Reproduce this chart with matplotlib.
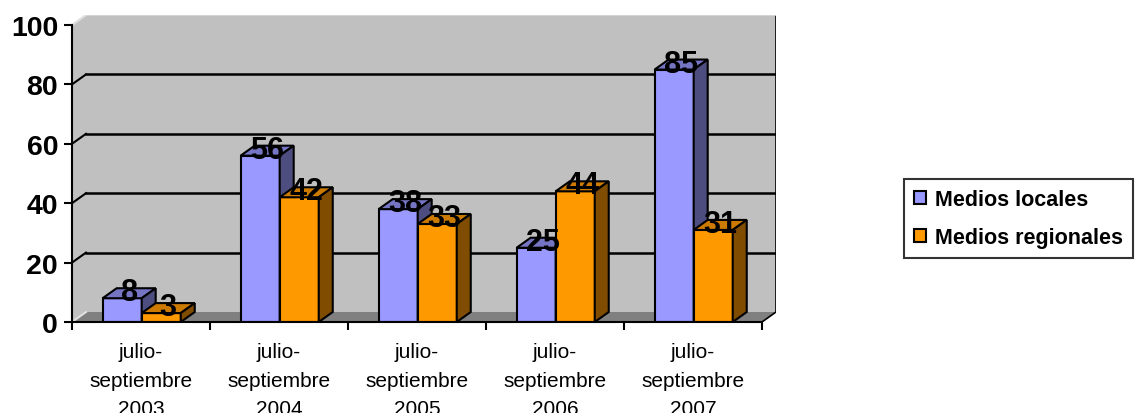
import matplotlib
matplotlib.use("Agg")
import matplotlib.pyplot as plt
from matplotlib.patches import Rectangle

categories = ["julio-\nseptiembre\n2003", "julio-\nseptiembre\n2004", "julio-\nseptiembre\n2005",
              "julio-\nseptiembre\n2006", "julio-\nseptiembre\n2007"]
medios_locales = [8, 56, 38, 25, 85]
medios_regionales = [3, 42, 33, 44, 31]
series_names = ["Medios locales", "Medios regionales"]
y_ticks = [0, 20, 40, 60, 80, 100]

plt.rcParams['font.family'] = ['Liberation Sans', 'DejaVu Sans']

W, H = 1138, 414
fig = plt.figure(figsize=(W / 100, H / 100), dpi=100)

# plot area in pixels (front axis) and 3d depth offset
px_left, px_y0, px_right, px_top = 72, 323, 776, 16
cat_px = 137.9
depth_px, depth_py = 14, 10
ddx = depth_px / cat_px
val_px = (px_y0 - 26) / 100.0
ddy = depth_py / val_px

ax = fig.add_axes([px_left / W, 1 - px_y0 / H, (px_right - px_left) / W, (px_y0 - px_top) / H])
ax.set_xlim(-0.5, 4.5 + ddx)
ax.set_ylim(0, 100 + ddy)
ax.patch.set_visible(False)

n = len(categories)
x_lo, x_hi = -0.5, n - 0.5

# walls
ax.fill([x_lo, x_lo, x_lo + ddx, x_hi + ddx, x_hi + ddx, x_lo],
        [0, 100, 100 + ddy, 100 + ddy, ddy, 0], color='#C0C0C0', zorder=0, lw=0)
ax.fill([x_lo, x_hi, x_hi + ddx, x_lo + ddx], [0, 0, ddy, ddy],
        color='#808080', zorder=1, lw=0)
ax.plot([x_hi, x_hi + ddx, x_hi + ddx], [0, ddy, 100 + ddy], color='black', lw=1.2, zorder=1)
ax.plot([x_lo + ddx, x_hi + ddx], [100 + ddy, 100 + ddy], color='#D8D8D8', lw=1.2, zorder=1)
for v in y_ticks:
    c = 'black' if 0 < v < 100 else '#E0E0E0'
    ax.plot([x_lo, x_lo + ddx], [v, v + ddy], color=c, lw=1.5, zorder=1.5)
    if 0 < v < 100:
        ax.plot([x_lo + ddx, x_hi + ddx], [v + ddy, v + ddy], color='black', lw=1.8, zorder=1.5)

bar_w = 0.283
styles = [
    ('#9999FF', '#7575C4', '#4D4D80'),
    ('#FF9900', '#CC7A00', '#7F4C00'),
]


def draw_bar(x0, v, cols):
    front, top, side = cols
    x1 = x0 + bar_w
    kw = dict(edgecolor='black', lw=1.5, zorder=3)
    ax.fill([x0, x1, x1, x0], [0, 0, v, v], facecolor=front, **kw)
    ax.fill([x0, x1, x1 + ddx, x0 + ddx], [v, v, v + ddy, v + ddy], facecolor=top, **kw)
    ax.fill([x1, x1 + ddx, x1 + ddx, x1], [0, ddy, v + ddy, v], facecolor=side, **kw)


for i in range(n):
    draw_bar(i - bar_w + 0.005, medios_locales[i], styles[0])
    draw_bar(i + 0.005, medios_regionales[i], styles[1])

for i in range(n):
    for off, vals in ((-bar_w + 0.005, medios_locales), (0.005, medios_regionales)):
        v = vals[i]
        ax.text(i + off + bar_w / 2 + ddx / 2, v + ddy * 0.6, str(v), ha='center', va='center',
                fontsize=22, fontweight='bold', color='black', zorder=5)

# axes, ticks, labels
for s in ('top', 'right'):
    ax.spines[s].set_visible(False)
ax.spines['left'].set_bounds(0, 100)
ax.spines['bottom'].set_bounds(x_lo, x_hi)
for s in ('left', 'bottom'):
    ax.spines[s].set_linewidth(1.5)
    ax.spines[s].set_zorder(4)

ax.set_yticks(y_ticks)
ax.set_yticklabels([str(v) for v in y_ticks], fontsize=20.5, fontweight='bold')
ax.tick_params(axis='y', length=6, width=1.5, pad=4)

ax.set_xticks([i - 0.5 for i in range(n + 1)])
ax.set_xticklabels([])
ax.set_xticks(range(n), minor=True)
ax.set_xticklabels(categories, minor=True, fontsize=15, linespacing=1.63)
ax.tick_params(axis='x', which='major', length=6, width=1.5)
ax.tick_params(axis='x', which='minor', length=0, pad=14.5)

handles = [Rectangle((0, 0), 1, 1, facecolor=styles[k][0], edgecolor='black', lw=1.5)
           for k in range(2)]
leg = fig.legend(handles, series_names, loc='upper left',
                 bbox_to_anchor=(904 / W, 1 - 180 / H), frameon=True, fancybox=False,
                 prop={'weight': 'bold', 'size': 15.5}, handlelength=0.55, handleheight=0.55,
                 handletextpad=0.45, labelspacing=0.8, borderpad=0.45, borderaxespad=0)
leg.get_frame().set_edgecolor('black')
leg.get_frame().set_linewidth(1.5)

fig.savefig("out.png", dpi=100)
